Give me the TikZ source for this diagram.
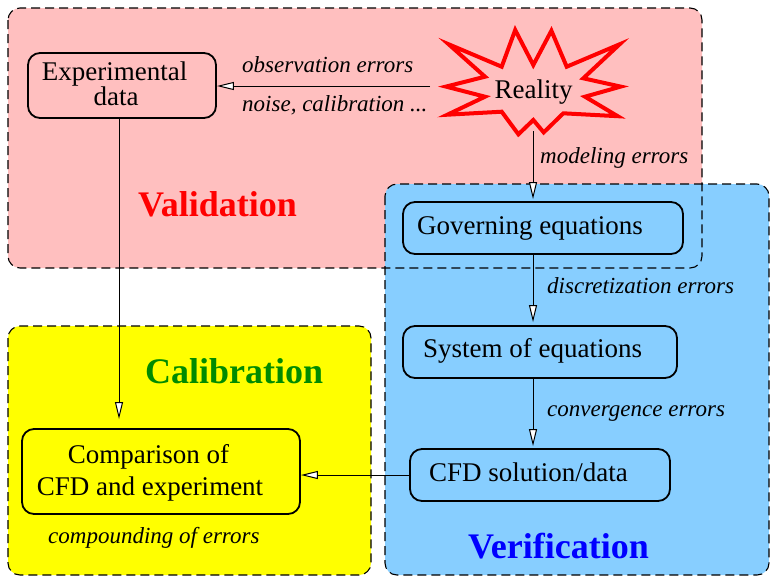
\documentclass[tikz,border=0pt]{standalone}
\usepackage{fontspec}
\setmainfont{Liberation Serif}
\usetikzlibrary{arrows.meta}
\definecolor{pinkbg}{RGB}{255,191,191}
\definecolor{bluebg}{RGB}{135,206,255}
\definecolor{yellowbg}{RGB}{255,255,0}
\definecolor{calgreen}{RGB}{0,139,0}
\begin{document}
\begin{tikzpicture}[x=1pt,y=-1pt,
  region/.style={rounded corners=12pt},
  regionborder/.style={draw=black, dash pattern=on 9pt off 5pt, line width=1.1pt, rounded corners=12pt},
  box/.style={draw, line width=1.8pt, rounded corners=12pt, rectangle, inner sep=0pt},
  txt/.style={anchor=base west, inner sep=0pt, font=\fontsize{27}{27}\selectfont},
  ctxt/.style={anchor=base, inner sep=0pt, font=\fontsize{27}{27}\selectfont},
  lbl/.style={anchor=base west, inner sep=0pt, font=\fontsize{23}{23}\selectfont\itshape},
  title/.style={anchor=base west, inner sep=0pt, font=\fontsize{36}{36}\selectfont\bfseries},
  arr/.style={-{Triangle[length=17pt,width=8pt,fill=white]}, line width=1pt},
  starline/.style={draw=red, line width=4pt, line join=miter},
]
\useasboundingbox (0,0) rectangle (770,576);
% region fills
\fill[pinkbg, region] (8,8) rectangle (702,268);
\fill[yellowbg, region] (8,326) rectangle (371,575);
\fill[bluebg, region] (385,184) rectangle (769,575);
% region borders
\draw[regionborder] (8,8) rectangle (702,268);
\draw[regionborder] (8,326) rectangle (371,575);
\draw[regionborder] (385,184) rectangle (769,575);

% titles
\node[title, text=red] (tval) at (138,216) {Validation};
\node[title, text=calgreen] (tcal) at (145,383) {Calibration};
\node[title, text=blue] (tver) at (468,558) {Verification};

% reality star
\draw[starline] (448.7,44.3) -- (501.7,66.7) -- (515.2,30.0) -- (533.3,65) -- (551.4,30.7) -- (566.7,66.7)
  -- (619.6,44.3) -- (583.3,78.3) -- (620.7,86.6) -- (585,96.7) -- (617.7,116.2) -- (563.3,113.3)
  -- (543.7,132.4) -- (533.3,120) -- (518.4,134.3) -- (501.7,111.7) -- (447.4,114.7) -- (485,96.7)
  -- (446,86.6) -- (485,76.7) -- cycle;
\node[ctxt] (reality) at (533.5,98) {Reality};

% boxes
\node[box, minimum width=188pt, minimum height=65pt] (expbox) at (122,85.5) {};
\node[ctxt] (exp1) at (114.5,80) {Experimental};
\node[ctxt] (exp2) at (116,105) {data};

\node[box, minimum width=280pt, minimum height=52pt] (gov) at (543,228) {};
\node[txt] (govt) at (417,234) {Governing equations};

\node[box, minimum width=274pt, minimum height=52pt] (sys) at (540,352) {};
\node[txt] (syst) at (423,357) {System of equations};

\node[box, minimum width=260pt, minimum height=52pt] (cfd) at (540,475) {};
\node[txt] (cfdt) at (429,481) {CFD solution/data};

\node[box, minimum width=278pt, minimum height=85pt] (cmp) at (161,471.5) {};
\node[ctxt] (cmp1) at (148.5,463) {Comparison of};
\node[ctxt] (cmp2) at (150,495) {CFD and experiment};

% labels
\node[lbl] (lobs) at (242,72) {observation errors};
\node[lbl] (lnoise) at (242,111) {noise, calibration ...};
\node[lbl] (lmod) at (540,163) {modeling errors};
\node[lbl] (ldisc) at (547,293) {discretization errors};
\node[lbl] (lconv) at (547,416) {convergence errors};
\node[lbl] (lcomp) at (48,543) {compounding of errors};

% connector anchors
\coordinate (realW) at (430,86);
\coordinate (realS) at (533,131);
\coordinate (axisA) at (533,0);
\coordinate (axisB) at (119,0);

% connectors
\draw[arr] (realW) -- (realW -| expbox.east);
\draw[arr, shorten >=2pt] (realS) -- (realS |- gov.north);
\draw[arr, shorten >=3pt] (gov.south -| axisA) -- (sys.north -| axisA);
\draw[arr, shorten >=2pt] (sys.south -| axisA) -- (cfd.north -| axisA);
\draw[arr] (cfd.west) -- (cfd.west -| cmp.east);
\draw[arr, shorten >=9pt] (expbox.south -| axisB) -- (cmp.north -| axisB);
\end{tikzpicture}
\end{document}
